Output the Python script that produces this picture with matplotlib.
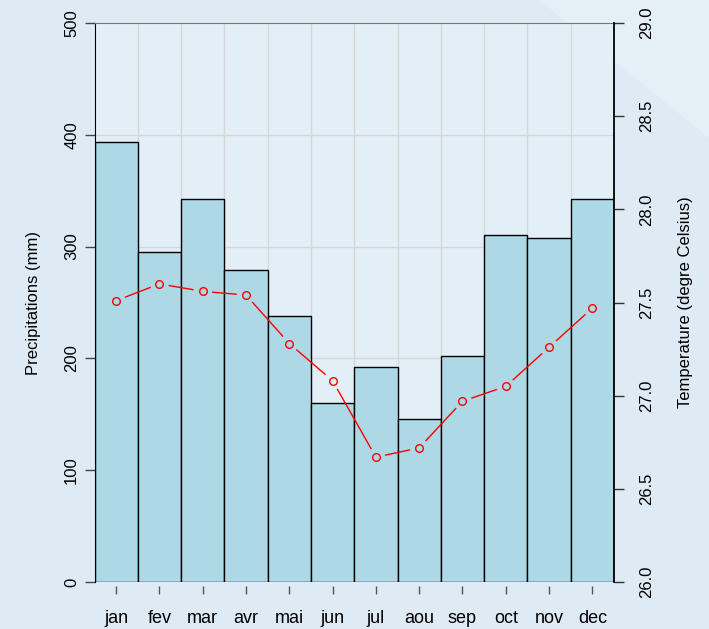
import numpy as np
import matplotlib.pyplot as plt
from matplotlib.patches import Polygon

# Donnees climatiques mensuelles
mois = ['jan', 'fev', 'mar', 'avr', 'mai', 'jun', 'jul', 'aou', 'sep', 'oct', 'nov', 'dec']
precip = [394, 295, 343, 279, 238, 160, 192, 146, 202, 310, 308, 343]
temp = [27.51, 27.60, 27.56, 27.54, 27.28, 27.08, 26.67, 26.72, 26.97, 27.05, 27.26, 27.47]
ticks_precip = [0, 100, 200, 300, 400, 500]
ticks_temp = [26.0, 26.5, 27.0, 27.5, 28.0, 28.5, 29.0]

plt.rcParams['font.family'] = ['Liberation Sans', 'DejaVu Sans']

fig = plt.figure(figsize=(7.09, 6.29), dpi=100)
fig.patch.set_facecolor('#deebf5')
# bande claire en haut a droite (fond)
fig.patches.append(Polygon([[0.76, 1.0], [1.0, 1.0], [1.0, 0.78]], closed=True,
                           transform=fig.transFigure, facecolor='#e4eff6', edgecolor='none', zorder=-1))

ax = fig.add_axes([0.1333, 0.0747, 0.7327, 0.8887])
ax.set_facecolor('#e3eff7')
x = np.arange(len(mois)) + 0.5
ax.bar(x, precip, width=1.0, color='#add8e6', edgecolor='black', linewidth=1, zorder=2)
ax.set_xlim(0, 12)
ax.set_ylim(0, 500)

# grille
for v in range(1, 12):
    ax.axvline(v, color='#d6d6d6', linewidth=1, zorder=1)
for v in ticks_precip[1:-1]:
    ax.axhline(v, color='#d6d6d6', linewidth=1, zorder=1)

ax.set_yticks(ticks_precip)
ax.set_yticklabels([str(t) for t in ticks_precip], rotation=90, va='center', fontsize=12)
ax.set_xticks(x)
ax.set_xticklabels(mois)
ax.tick_params(axis='y', length=7, width=1, color='#444444', pad=4)
ax.tick_params(axis='x', length=6, width=1, color='#555555', pad=11, labelsize=13)
ax.spines['bottom'].set_position(('outward', 3))
ax.spines['bottom'].set_visible(False)
ax.spines['top'].set_color('#777777')
ax.spines['left'].set_color('black')
ax.spines['right'].set_visible(False)
ax.set_ylabel('Precipitations (mm)', fontsize=12, labelpad=17)

ax2 = ax.twinx()
ax2.set_ylim(26, 29)
ax2.set_yticks(ticks_temp)
ax2.set_yticklabels(['%.1f' % t for t in ticks_temp], rotation=90, va='center', fontsize=12)
ax2.tick_params(axis='y', length=7, width=1, color='#333333', pad=11)
ax2.spines['right'].set_color('black')
ax2.spines['right'].set_linewidth(1.3)
for s in ['top', 'left', 'bottom']:
    ax2.spines[s].set_visible(False)
ax2.set_ylabel('Temperature (degre Celsius)', fontsize=12, labelpad=17)

# courbe type "b" : points + segments interrompus
ax2.plot(x, temp, linestyle='none', marker='o', markersize=5.5, markerfacecolor='none',
         markeredgecolor='red', markeredgewidth=1, zorder=4)
pts = ax2.transData.transform(np.column_stack([x, temp]))
gap = 10.0
inv = ax2.transData.inverted()
for i in range(len(pts) - 1):
    p0, p1 = pts[i], pts[i + 1]
    d = p1 - p0
    L = np.hypot(*d)
    if L <= 2 * gap:
        continue
    u = d / L
    a = inv.transform(p0 + u * gap)
    b = inv.transform(p1 - u * gap)
    ax2.plot([a[0], b[0]], [a[1], b[1]], color='red', linewidth=1, zorder=4)

fig.savefig('out.png', dpi=100, facecolor=fig.get_facecolor())
